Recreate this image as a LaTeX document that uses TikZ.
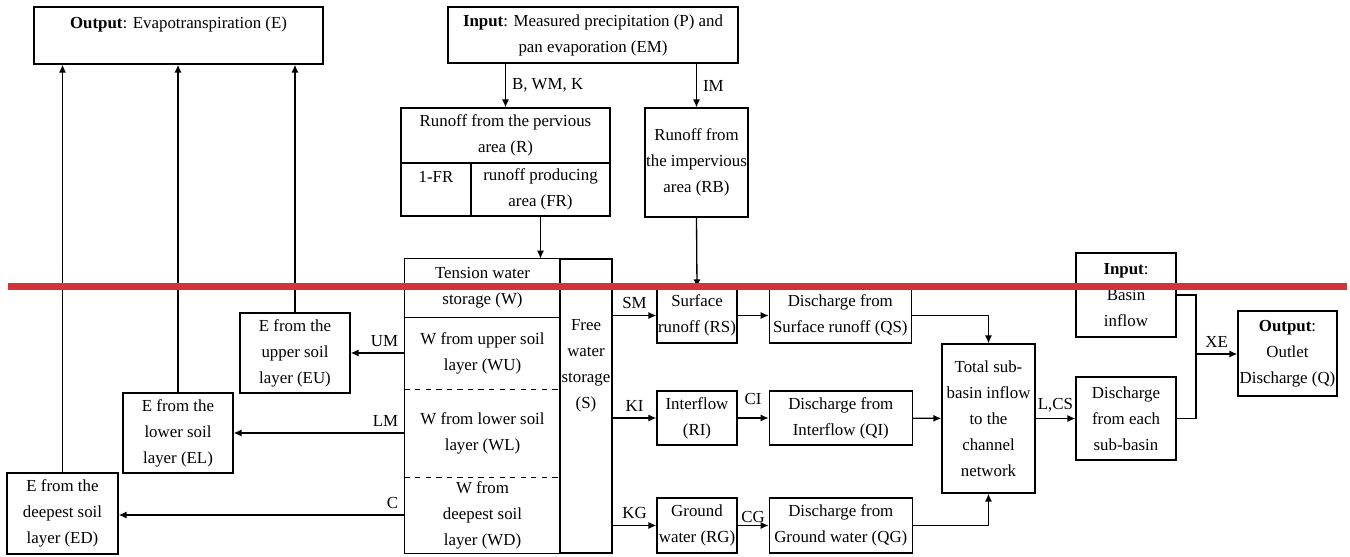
\documentclass[tikz,border=0pt]{standalone}
\usepackage{fontspec}
\setmainfont{Liberation Serif}
\usetikzlibrary{arrows.meta,positioning}
\definecolor{markred}{RGB}{209,52,57}

\begin{document}
\begin{tikzpicture}[
  x=0.02cm, y=-0.02cm,
  font=\fontsize{9.6}{14.75}\selectfont,
  box/.style={draw, line width=0.75pt, align=center, inner sep=0.5pt},
  txt/.style={align=center, inner sep=0.5pt},
  arrow/.style={-{Latex[length=4.5pt,width=4pt]}, line width=0.75pt},
  link/.style={line width=0.75pt}
]
\useasboundingbox (0,0) rectangle (1350,557);

\node[box, minimum width=5.78cm, minimum height=1.14cm] (eout) at (178.5,35.5) {\textbf{Output}: Evapotranspiration (E)\\\mbox{}};
\node[box, minimum width=5.8cm, minimum height=1.12cm] (pin) at (593,35) {\textbf{Input}: Measured precipitation (P) and\\pan evaporation (EM)};
\node[box, minimum width=4.18cm, minimum height=1.1cm] (rperv) at (505.5,135.5) {Runoff from the pervious\\area (R)};
\node[box, minimum width=1.4cm, minimum height=1.06cm] (nonfr) at (436,189.5) {1-FR\\\mbox{}};
\node[box, minimum width=2.78cm, minimum height=1.06cm] (fr) at (540.5,189.5) {runoff producing\\area (FR)};
\node[box, minimum width=2.06cm, minimum height=2.18cm] (rimp) at (696.5,162.5) {Runoff from\\the impervious\\area (RB)};

\node[txt, minimum width=3.1cm, minimum height=1.16cm] (tens) at (482.5,288) {Tension water\\storage (W)};
\node[txt, minimum width=3.1cm, minimum height=1.44cm] (wu) at (482.5,353) {W from upper soil\\layer (WU)};
\node[txt, minimum width=3.1cm, minimum height=1.76cm] (wl) at (482.5,433) {W from lower soil\\layer (WL)};
\node[txt, minimum width=3.1cm, minimum height=1.52cm] (wd) at (482.5,515) {W from\\deepest soil\\layer (WD)};
\node[box, minimum width=1.04cm, minimum height=5.88cm] (free) at (586,406) {};
\node[txt] (freetxt) at (586,366) {Free\\water\\storage\\(S)};
\draw[link] (tens.north west) rectangle (wd.south east);
\draw[link] (tens.south west) -- (tens.south east);
\draw[link, dashed] (wu.south west) -- (wu.south east);
\draw[link, dashed] (wl.south west) -- (wl.south east);

\node[box, minimum width=2.2cm, minimum height=1.6cm] (eu) at (295,353) {E from the\\upper soil\\layer (EU)};
\node[box, minimum width=2.2cm, minimum height=1.6cm] (el) at (178,433) {E from the\\lower soil\\layer (EL)};
\node[box, minimum width=2.22cm, minimum height=1.62cm] (ed) at (62.5,513.5) {E from the\\deepest soil\\layer (ED)};

\node[box, minimum width=1.6cm, minimum height=1.1cm] (rs) at (697,315.5) {Surface\\runoff (RS)};
\node[box, minimum width=2.84cm, minimum height=1.1cm, right=0.62cm of rs] (qs) {Discharge from\\Surface runoff (QS)};
\node[box, minimum width=1.6cm, minimum height=1.08cm] (ri) at (697,418) {Interflow\\(RI)};
\node[box, minimum width=2.86cm, minimum height=1.08cm, right=0.62cm of ri] (qi) {Discharge from\\Interflow (QI)};
\node[box, minimum width=1.6cm, minimum height=1.1cm] (rg) at (697,525.5) {Ground\\water (RG)};
\node[box, minimum width=2.86cm, minimum height=1.1cm, right=0.62cm of rg] (qg) {Discharge from\\Ground water (QG)};
\node[box, minimum width=1.86cm, minimum height=2.98cm] (total) at (988.5,418.5) {Total sub-\\basin inflow\\to the\\channel\\network};
\node[box, minimum width=2cm, minimum height=1.68cm] (bin) at (1126,295) {\textbf{Input}:\\Basin\\inflow};
\node[box, minimum width=2cm, minimum height=1.66cm] (dsub) at (1126,418.5) {Discharge\\from each\\sub-basin};
\node[box, minimum width=1.98cm, minimum height=1.7cm] (qout) at (1287.5,353.5) {\textbf{Output}:\\Outlet\\Discharge (Q)};
\coordinate (xe) at (1196,354);

\draw[arrow] (eu.north) -- (eu.north |- eout.south);
\draw[arrow] (el.north) -- (el.north |- eout.south);
\draw[arrow] (ed.north) -- (ed.north |- eout.south);
\draw[arrow] (rperv.north |- pin.south) -- node[right]{B, WM, K} (rperv.north);
\draw[arrow] (rimp.north |- pin.south) -- node[right]{IM} (rimp.north);
\draw[arrow] (fr.south) -- (fr.south |- tens.north);
\draw[arrow] (rimp.south) -- (rs.north);
\draw[arrow] (wu.west) -- node[pos=0, above left]{UM} (wu.west -| eu.east);
\draw[arrow] (wl.west) -- node[pos=0, above left]{LM} (wl.west -| el.east);
\draw[arrow] (wd.west) -- node[pos=0, above left]{C} (wd.west -| ed.east);
\draw[arrow] (free.east |- rs.west) -- node[above]{SM} (rs.west);
\draw[arrow] (free.east |- ri.west) -- node[above]{KI} (ri.west);
\draw[arrow] (free.east |- rg.west) -- node[above]{KG} (rg.west);
\draw[arrow] (rs) -- (qs);
\draw[arrow] (ri) -- node[above, yshift=4pt]{CI} (qi);
\draw[arrow] (rg) -- node[above, inner sep=1pt]{CG} (qg);
\draw[arrow] (qs.east) -| (total.north);
\draw[arrow] (qi) -- (total);
\draw[arrow] (qg.east) -| (total.south);
\draw[arrow] (total) -- node[above]{L,CS} (dsub);
\draw[link] (bin.east) -| (xe) |- (dsub.east);
\draw[arrow] (xe) -- node[above]{XE} (xe -| qout.west);

\draw[markred, line width=0.14cm] (8,286.5) -- (1347,286.5);
\end{tikzpicture}
\end{document}
